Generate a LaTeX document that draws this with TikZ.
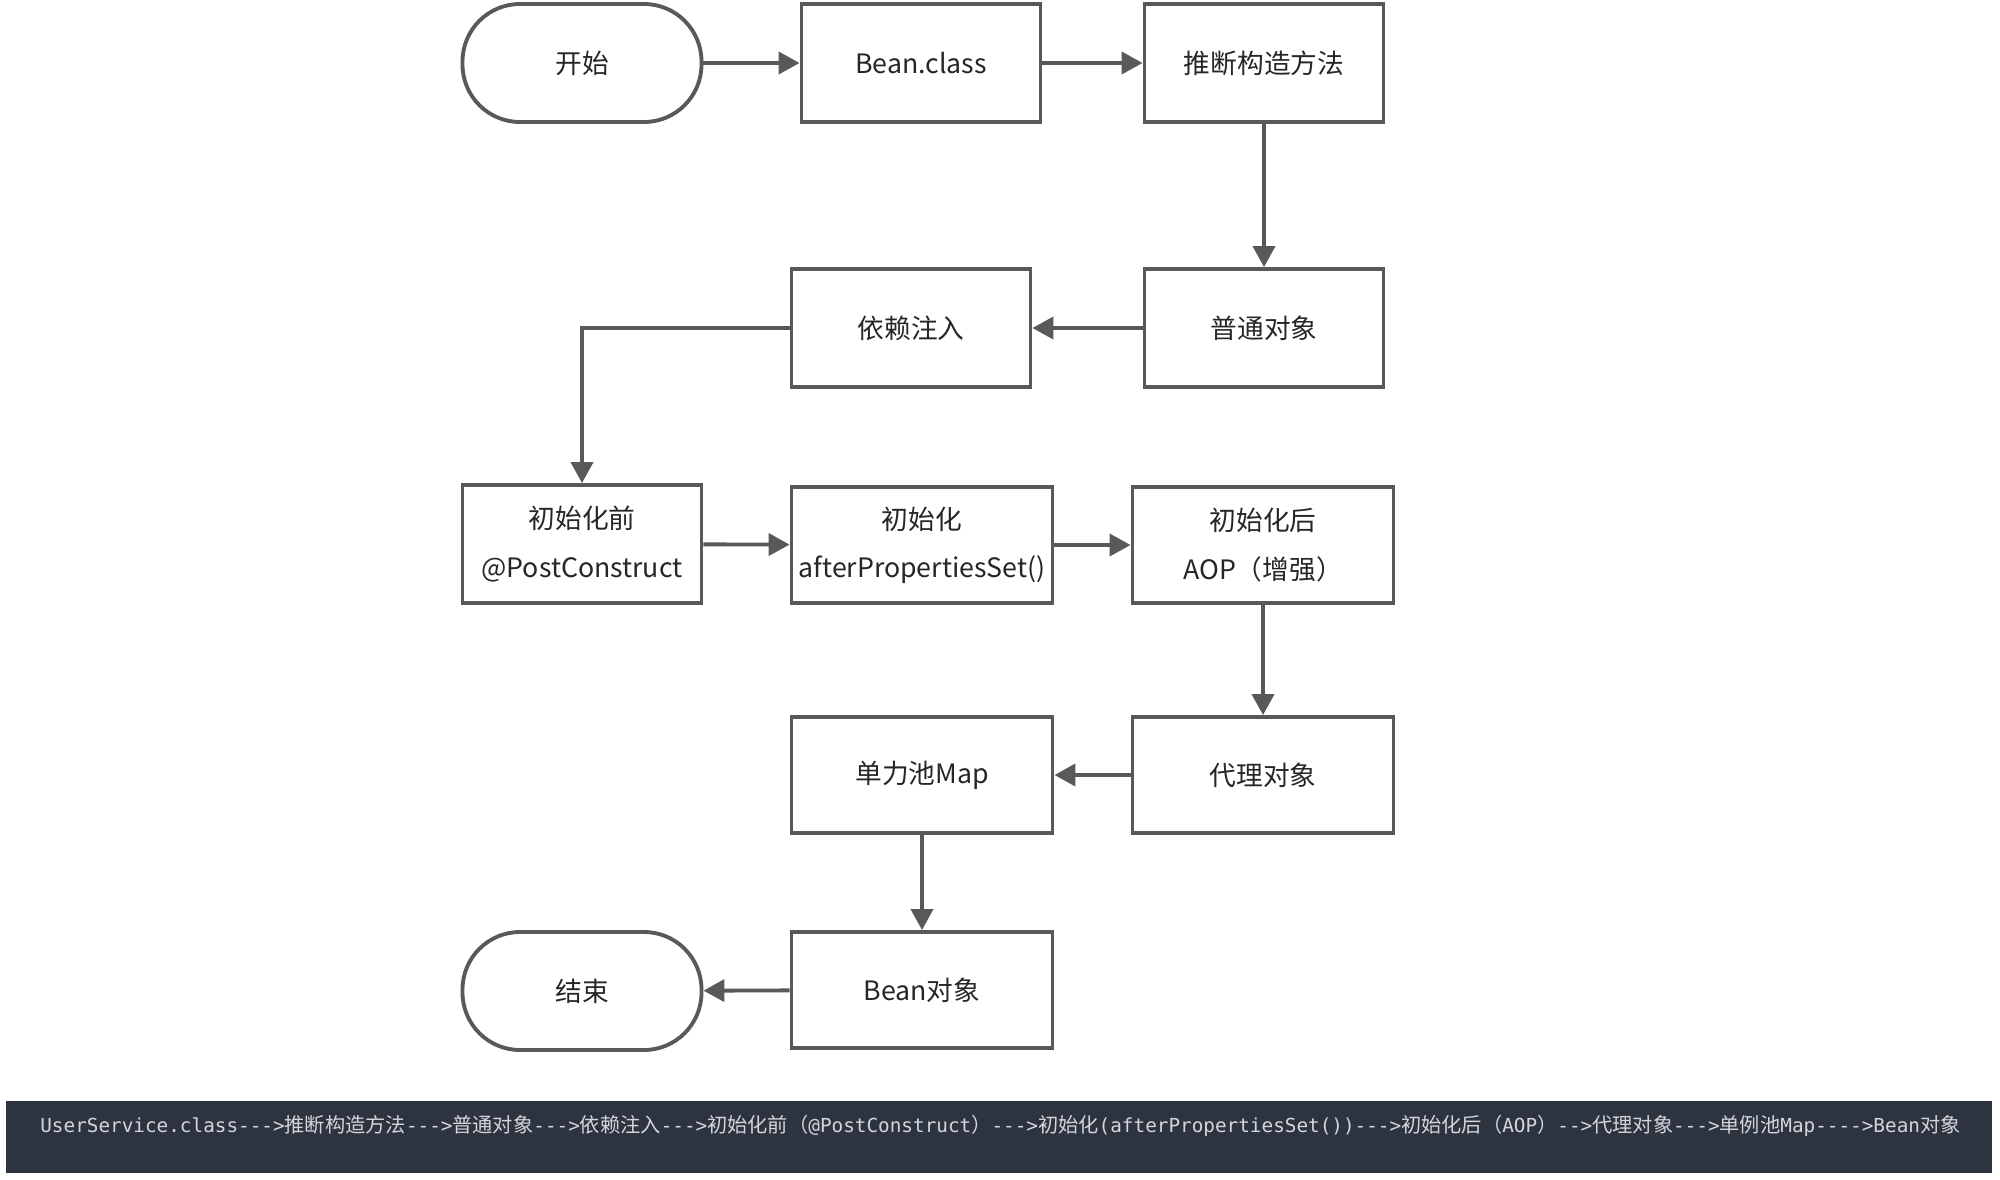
\documentclass[tikz,border=0pt]{standalone}
\usepackage{fontspec}
\newfontfamily\cjk{Noto Sans CJK SC}
\setmonofont{DejaVu Sans Mono}
\usetikzlibrary{arrows.meta}
\definecolor{linegray}{HTML}{595959}
\definecolor{txtgray}{HTML}{262626}
\definecolor{barbg}{HTML}{2E343F}
\definecolor{bartxt}{HTML}{D2D6DC}
\newcommand{\zh}[1]{{\cjk\fontsize{11.5}{14}\selectfont #1}}
\newcommand{\en}[1]{{\ttfamily\fontsize{11}{14}\selectfont #1}}

\begin{document}
\begin{tikzpicture}[x=0.2mm, y=-0.2mm,
  box/.style={draw=linegray, line width=2.2pt, text=txtgray, align=center,
              font=\cjk\fontsize{15.2}{27.5}\selectfont, inner sep=0pt},
  narrow/.style={box, minimum width=47.8mm, minimum height=23.6mm},
  wide/.style={box, minimum width=52.2mm, minimum height=23.2mm},
  term/.style={narrow, rounded corners=11.5mm},
  flow/.style={draw=linegray, line width=2.2pt, -{Triangle[length=4.2mm, width=4.4mm]}}]
  \useasboundingbox (0,0) rectangle (2000,1179);
  % main row of boxes
  \node[term]   (start) at (582,63)   {开始};
  \node[narrow] (cls)   at (921,63)   {Bean.class};
  \node[narrow] (infer) at (1264,63)  {推断构造方法};
  \node[narrow] (plain) at (1264,328) {普通对象};
  \node[narrow] (di)    at (911,328)  {依赖注入};
  \node[narrow] (pre)   at (582,544)  {初始化前\\@PostConstruct};
  \node[wide]   (init)  at (922,545)  {初始化\\afterPropertiesSet()};
  \node[wide]   (post)  at (1263,545) {初始化后\\AOP（增强）};
  \node[wide]   (proxy) at (1263,775) {代理对象};
  \node[wide]   (pool)  at (922,775)  {单力池Map};
  \node[wide]   (bean)  at (922,990)  {Bean对象};
  \node[term]   (stop)  at (582,991)  {结束};
  % connectors
  \draw[flow] (start) -- (cls);
  \draw[flow] (cls) -- (infer);
  \draw[flow] (infer) -- (plain);
  \draw[flow] (plain) -- (di);
  \draw[flow] (di.west) -| (pre.north);
  \draw[flow] (pre) -- (init);
  \draw[flow] (init) -- (post);
  \draw[flow] (post) -- (proxy);
  \draw[flow] (proxy) -- (pool);
  \draw[flow] (pool) -- (bean);
  \draw[flow] (bean) -- (stop);
  % summary bar
  \fill[barbg] (6,1101) rectangle (1992,1173);
  \node[anchor=west, text=bartxt, inner sep=0pt] (chain) at (40,1126)
    {\en{UserService.class--->}\zh{推断构造方法}\en{--->}\zh{普通对象}\en{--->}\zh{依赖注入}\en{--->}\zh{初始化前（}\en{@PostConstruct}\zh{）}\en{--->}\zh{初始化}\en{(afterPropertiesSet())--->}\zh{初始化后（}\en{AOP}\zh{）}\en{-->}\zh{代理对象}\en{--->}\zh{单例池}\en{Map---->Bean}\zh{对象}};
\end{tikzpicture}
\end{document}
